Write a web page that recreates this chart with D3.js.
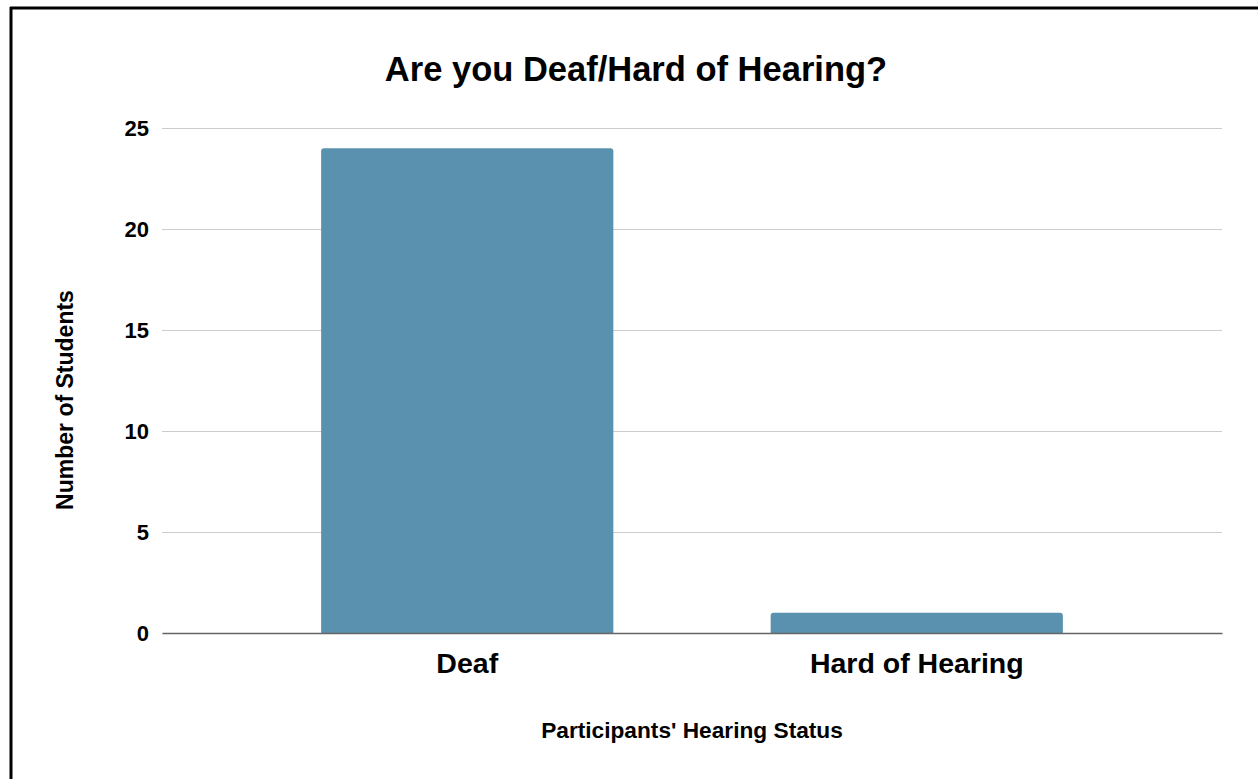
<!DOCTYPE html>
<html lang="en">
<head>
    <meta charset="UTF-8">
    <title>Are you Deaf/Hard of Hearing?</title>
    <script src="https://d3js.org/d3.v7.min.js"></script>
    <style>
        body { margin: 0; padding: 0; background: #fff; overflow: hidden; }
        svg text { font-family: "Liberation Sans", Arial, sans-serif; fill: #000; }
    </style>
</head>
<body>
    <svg id="chart"></svg>
    <script>
        const categories = ["Deaf", "Hard of Hearing"];
        const counts = [24, 1];
        const yTicks = [0, 5, 10, 15, 20, 25];

        const width = 1258, height = 779;
        const plot = { left: 162, right: 1222, top: 128, bottom: 633 };
        const barColor = "#5a91ae";

        const svg = d3.select("#chart")
            .attr("width", width)
            .attr("height", height);

        // frame (only top and left edges are visible in the picture)
        svg.append("line")
            .attr("x1", 10).attr("x2", width).attr("y1", 8).attr("y2", 8)
            .attr("stroke", "#000").attr("stroke-width", 3);
        svg.append("line")
            .attr("x1", 11).attr("x2", 11).attr("y1", 7).attr("y2", height)
            .attr("stroke", "#000").attr("stroke-width", 3);

        const x = d3.scaleBand()
            .domain(categories)
            .range([plot.left, plot.right])
            .paddingInner(0.35)
            .paddingOuter(0.354);

        const y = d3.scaleLinear()
            .domain([0, 25])
            .range([plot.bottom, plot.top]);

        // grid lines + y labels
        const yAxis = svg.append("g")
            .attr("transform", `translate(${plot.left},0)`)
            .call(d3.axisLeft(y)
                .tickValues(yTicks)
                .tickSize(-(plot.right - plot.left))
                .tickPadding(13)
                .tickFormat(d3.format("d")));
        yAxis.select(".domain").remove();
        yAxis.selectAll(".tick line")
            .attr("stroke", "#cccccc")
            .attr("stroke-width", 1.2);
        yAxis.selectAll(".tick text")
            .style("font-size", "22px")
            .style("font-weight", "bold")
            .attr("fill", "#000");

        // bars with slightly rounded top corners
        const r = 3;
        svg.selectAll("path.bar")
            .data(categories.map((c, i) => ({ cat: c, val: counts[i] })))
            .enter().append("path")
            .attr("class", "bar")
            .attr("fill", barColor)
            .attr("d", d => {
                const x0 = x(d.cat), w = x.bandwidth();
                const y0 = y(d.val), y1 = y(0);
                return `M${x0},${y1} V${y0 + r} Q${x0},${y0} ${x0 + r},${y0}` +
                    ` H${x0 + w - r} Q${x0 + w},${y0} ${x0 + w},${y0 + r} V${y1} Z`;
            });

        // baseline + category labels
        const xAxis = svg.append("g")
            .attr("transform", `translate(0,${plot.bottom})`)
            .call(d3.axisBottom(x).tickSize(0).tickPadding(20));
        xAxis.select(".domain")
            .attr("stroke", "#666666")
            .attr("stroke-width", 1.5);
        xAxis.selectAll(".tick text")
            .style("font-size", "28.5px")
            .style("font-weight", "bold")
            .attr("fill", "#000");

        // title
        svg.append("text")
            .attr("x", 636)
            .attr("y", 81)
            .attr("text-anchor", "middle")
            .style("font-size", "34.5px")
            .style("font-weight", "bold")
            .text("Are you Deaf/Hard of Hearing?");

        // axis titles
        svg.append("text")
            .attr("x", (plot.left + plot.right) / 2)
            .attr("y", 738)
            .attr("text-anchor", "middle")
            .style("font-size", "22.7px")
            .style("font-weight", "bold")
            .text("Participants' Hearing Status");

        svg.append("text")
            .attr("transform", "translate(73,400) rotate(-90)")
            .attr("text-anchor", "middle")
            .style("font-size", "23px")
            .style("font-weight", "bold")
            .text("Number of Students");
    </script>
</body>
</html>
